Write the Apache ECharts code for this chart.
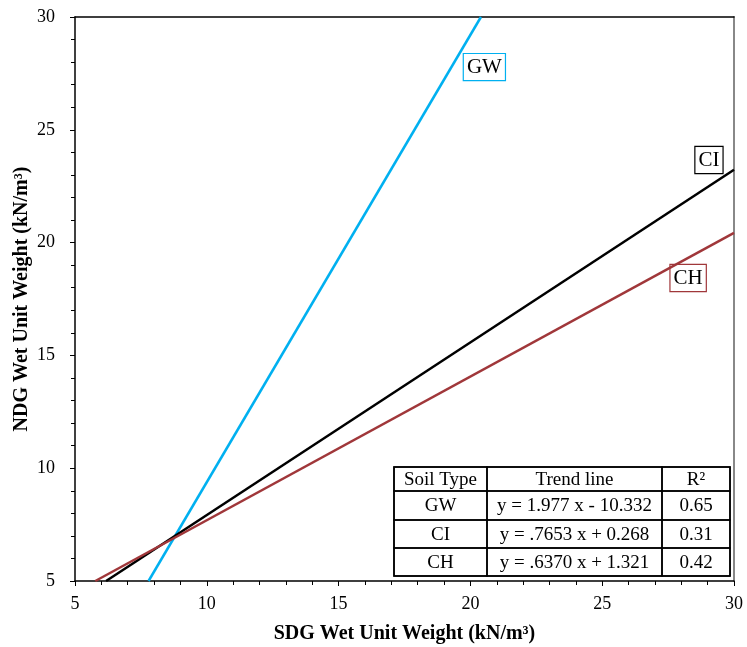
<!DOCTYPE html>
<html><head><meta charset="utf-8">
<script src="https://cdn.jsdelivr.net/npm/echarts@6/dist/echarts.min.js"></script>
<style>html,body{margin:0;padding:0;background:#fff}#c{width:747px;height:647px}</style>
</head><body><div id="c"></div>
<script>
// Trend line endpoints [x, y]
var gwLine = [[7.79, 5], [20.40, 30]];
var ciLine = [[6.18, 5], [30, 23.23]];
var chLine = [[5.77, 5], [30, 20.43]];
// label box anchors [x, y]
var gwLabelPos = [20.53, 27.78];
var ciLabelPos = [29.05, 23.66];
var chLabelPos = [28.26, 18.43];
// table
var tableHeader = ['Soil Type', 'Trend line', 'R²'];
var tableSoil = ['GW', 'CI', 'CH'];
var tableTrend = ['y = 1.977 x - 10.332', 'y = .7653 x + 0.268', 'y = .6370 x + 1.321'];
var tableR2 = ['0.65', '0.31', '0.42'];

var FONT = 'Liberation Serif';
var colors = {GW: '#00B0F0', CI: '#000000', CH: '#A0373A'};

function mp(pos, text, color) {
  return {
    symbol: 'rect', symbolSize: 0, silent: true,
    data: [{coord: pos}],
    label: {
      show: true, position: 'inside', formatter: text,
      fontFamily: FONT, fontSize: 21, color: '#000',
      backgroundColor: '#fff', borderColor: color, borderWidth: 1.2,
      padding: [4, 3, 1, 3]
    }
  };
}

var chart = echarts.init(document.getElementById('c'), null, {renderer: 'canvas'});

// table graphics
var tx = [394, 487, 662, 730];
var ty = [467, 491, 520, 548, 576];
var rows = [tableHeader];
for (var i = 0; i < tableSoil.length; i++) rows.push([tableSoil[i], tableTrend[i], tableR2[i]]);
var graphics = [];
graphics.push({type: 'rect', shape: {x: tx[0], y: ty[0], width: tx[3] - tx[0], height: ty[4] - ty[0]},
  style: {fill: '#fff', stroke: '#000', lineWidth: 1.5}, z: 100});
for (var r = 0; r < rows.length; r++) {
  for (var c = 0; c < 3; c++) {
    graphics.push({type: 'rect', shape: {x: tx[c], y: ty[r], width: tx[c + 1] - tx[c], height: ty[r + 1] - ty[r]},
      style: {fill: 'transparent', stroke: '#000', lineWidth: 1.5}, z: 101});
    graphics.push({type: 'text', x: (tx[c] + tx[c + 1]) / 2, y: (ty[r] + ty[r + 1]) / 2 + 1,
      style: {text: rows[r][c], fontFamily: FONT, fontSize: 19, fill: '#000', align: 'center', verticalAlign: 'middle'}, z: 102});
  }
}

var axisCommon = {
  type: 'value', min: 5, max: 30, interval: 5,
  axisLine: {show: true, onZero: false, lineStyle: {color: '#000', width: 1.5}},
  axisTick: {show: true, length: 5, lineStyle: {color: '#000', width: 1}},
  minorTick: {show: true, splitNumber: 5, length: 4, lineStyle: {color: '#000', width: 1}},
  splitLine: {show: false},
  axisLabel: {fontFamily: FONT, fontSize: 18, color: '#000'},
  nameLocation: 'middle',
  nameMoveOverlap: false,
  nameTextStyle: {fontFamily: FONT, fontSize: 20, fontWeight: 'bold', color: '#000'}
};

function lineSeries(name, data, labelPos) {
  return {
    name: name, type: 'line', data: data, showSymbol: false, symbol: 'none',
    lineStyle: {color: colors[name], width: 2.5}, itemStyle: {color: colors[name]},
    markPoint: mp(labelPos, name, colors[name]), animation: false, z: 5
  };
}

chart.setOption({
  animation: false,
  backgroundColor: '#fff',
  grid: {left: 75, right: 13, top: 17, bottom: 66, show: false, containLabel: false, outerBoundsMode: 'none'},
  xAxis: [
    Object.assign({}, axisCommon, {name: 'SDG Wet Unit Weight (kN/m³)', nameGap: 43,
      axisLabel: Object.assign({}, axisCommon.axisLabel, {margin: 14})}),
    {type: 'value', min: 5, max: 30, position: 'top', axisLine: {show: true, onZero: false, lineStyle: {color: '#000', width: 1.5}},
      axisTick: {show: false}, axisLabel: {show: false}, splitLine: {show: false}}
  ],
  yAxis: [
    Object.assign({}, axisCommon, {name: 'NDG Wet Unit Weight (kN/m³)', nameGap: 43,
      axisLabel: Object.assign({}, axisCommon.axisLabel, {margin: 20})}),
    {type: 'value', min: 5, max: 30, position: 'right', axisLine: {show: true, onZero: false, lineStyle: {color: '#888', width: 2}},
      axisTick: {show: false}, axisLabel: {show: false}, splitLine: {show: false}}
  ],
  series: [
    lineSeries('GW', gwLine, gwLabelPos),
    lineSeries('CI', ciLine, ciLabelPos),
    lineSeries('CH', chLine, chLabelPos)
  ],
  graphic: graphics
});
</script></body></html>
